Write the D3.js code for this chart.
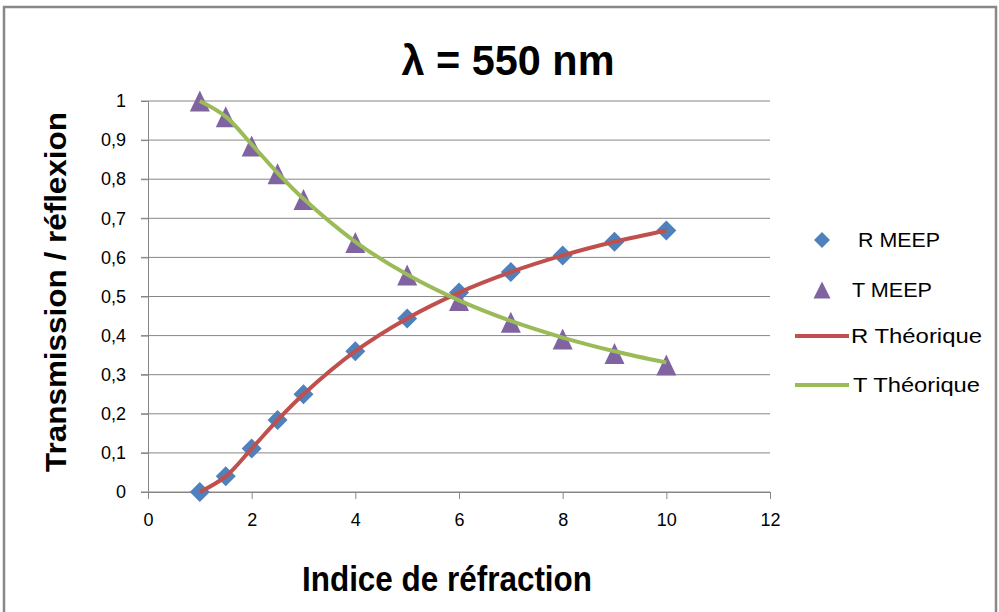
<!DOCTYPE html>
<html><head><meta charset="utf-8">
<script src="https://cdn.jsdelivr.net/npm/d3@7"></script>
<style>
body{margin:0;background:#fff;}
svg{display:block;}
text{font-family:"Liberation Sans",Arial,sans-serif;}
</style></head>
<body>
<script>
const indices = [1, 1.5, 2, 2.5, 3, 4, 5, 6, 7, 8, 9, 10];
const rMeep = [0, 0.04, 0.111, 0.184, 0.25, 0.36, 0.444, 0.51, 0.5625, 0.605, 0.64, 0.669];
const tMeep = [1, 0.96, 0.885, 0.814, 0.748, 0.638, 0.555, 0.49, 0.434, 0.391, 0.354, 0.325];
const rTheo = [0, 0.04, 0.111, 0.184, 0.25, 0.36, 0.444, 0.51, 0.5625, 0.605, 0.64, 0.669];
const tTheo = [1, 0.96, 0.889, 0.816, 0.75, 0.64, 0.556, 0.49, 0.4375, 0.395, 0.36, 0.331];
const xTicks = [0, 2, 4, 6, 8, 10, 12];
const yTicks = [0, 0.1, 0.2, 0.3, 0.4, 0.5, 0.6, 0.7, 0.8, 0.9, 1];
const legendLabels = ["R MEEP", "T MEEP", "R Théorique", "T Théorique"];
const title = "λ = 550 nm";
const xTitle = "Indice de réfraction";
const yTitle = "Transmission / réflexion";

const W = 999, H = 612;
const colR = "#4F81BD", colT = "#8064A2", colRL = "#C0504D", colTL = "#9BBB59";
const svg = d3.select("body").append("svg").attr("width", W).attr("height", H);
svg.append("rect").attr("x", 4).attr("y", 7).attr("width", 992).attr("height", 620)
  .attr("fill", "#fff").attr("stroke", "#888").attr("stroke-width", 2.5);

const x = d3.scaleLinear().domain([0, 12]).range([148, 770]);
const y = d3.scaleLinear().domain([0, 1]).range([492, 101]);

// gridlines
svg.append("g").selectAll("line").data(yTicks).join("line")
  .attr("x1", x(0) - 7).attr("x2", x(12)).attr("y1", d => y(d)).attr("y2", d => y(d))
  .attr("stroke", "#868686").attr("stroke-width", 1);

const fmt = d => d3.format(".1~f")(d).replace(".", ",");
// y axis
const ya = svg.append("g").attr("transform", `translate(${x(0)},0)`)
  .call(d3.axisLeft(y).tickValues(yTicks).tickFormat(fmt).tickSize(7).tickPadding(15));
ya.select(".domain").attr("stroke", "#868686");
ya.selectAll(".tick line").attr("stroke", "#868686");
ya.selectAll("text").attr("font-size", 18).attr("fill", "#000")
  .style("font-family", "'Liberation Sans',Arial,sans-serif");

// x axis
const xa = svg.append("g").attr("transform", `translate(0,${y(0)})`)
  .call(d3.axisBottom(x).tickValues(xTicks).tickFormat(d3.format("d")).tickSize(7).tickPadding(14));
xa.select(".domain").attr("stroke", "#868686");
xa.selectAll(".tick line").attr("stroke", "#868686");
xa.selectAll("text").attr("font-size", 18).attr("fill", "#000")
  .style("font-family", "'Liberation Sans',Arial,sans-serif");

// markers (box-centred like Excel)
const diamondPath = r => `M0,${-r}L${r},0L0,${r}L${-r},0Z`;
const triPath = (w, h) => `M0,${-h / 2}L${w / 2},${h / 2}L${-w / 2},${h / 2}Z`;
svg.append("g").selectAll("path").data(indices).join("path")
  .attr("d", diamondPath(10)).attr("transform", (n, i) => `translate(${x(n)},${y(rMeep[i])})`)
  .attr("fill", colR);
svg.append("g").selectAll("path").data(indices).join("path")
  .attr("d", triPath(20, 21)).attr("transform", (n, i) => `translate(${x(n)},${y(tMeep[i])})`)
  .attr("fill", colT);

// lines (drawn over markers)
const line = d3.line().x(d => x(d[0])).y(d => y(d[1])).curve(d3.curveCatmullRom.alpha(0.5));
svg.append("path").datum(indices.map((n, i) => [n, rTheo[i]]))
  .attr("d", line).attr("fill", "none").attr("stroke", colRL).attr("stroke-width", 4);
svg.append("path").datum(indices.map((n, i) => [n, tTheo[i]]))
  .attr("d", line).attr("fill", "none").attr("stroke", colTL).attr("stroke-width", 4);

// titles
svg.append("text").attr("x", 508).attr("y", 75).attr("text-anchor", "middle")
  .attr("font-size", 42).attr("font-weight", "bold")
  .attr("textLength", 213).attr("lengthAdjust", "spacingAndGlyphs").text(title);
svg.append("text").attr("x", 447).attr("y", 591).attr("text-anchor", "middle")
  .attr("font-size", 35).attr("font-weight", "bold")
  .attr("textLength", 290).attr("lengthAdjust", "spacingAndGlyphs").text(xTitle);
svg.append("text").attr("transform", "translate(66,292) rotate(-90)").attr("text-anchor", "middle")
  .attr("font-size", 30).attr("font-weight", "bold")
  .attr("textLength", 360).attr("lengthAdjust", "spacingAndGlyphs").text(yTitle);

// legend
const lg = svg.append("g");
const ly = [240, 290, 336, 385];
lg.append("path").attr("d", diamondPath(8)).attr("transform", `translate(822,${ly[0]})`).attr("fill", colR);
lg.append("path").attr("d", triPath(17, 17)).attr("transform", `translate(822,${ly[1]})`).attr("fill", colT);
lg.append("line").attr("x1", 795).attr("x2", 849).attr("y1", ly[2]).attr("y2", ly[2]).attr("stroke", colRL).attr("stroke-width", 4);
lg.append("line").attr("x1", 795).attr("x2", 849).attr("y1", ly[3]).attr("y2", ly[3]).attr("stroke", colTL).attr("stroke-width", 4);
const lx = [858, 852, 851, 853];
const lw = [82, 80, 131, 127];
legendLabels.forEach((t, i) => {
  lg.append("text").attr("x", lx[i]).attr("y", ly[i] + 7).attr("font-size", 20)
    .attr("textLength", lw[i]).attr("lengthAdjust", "spacingAndGlyphs").text(t);
});
</script>
</body></html>
